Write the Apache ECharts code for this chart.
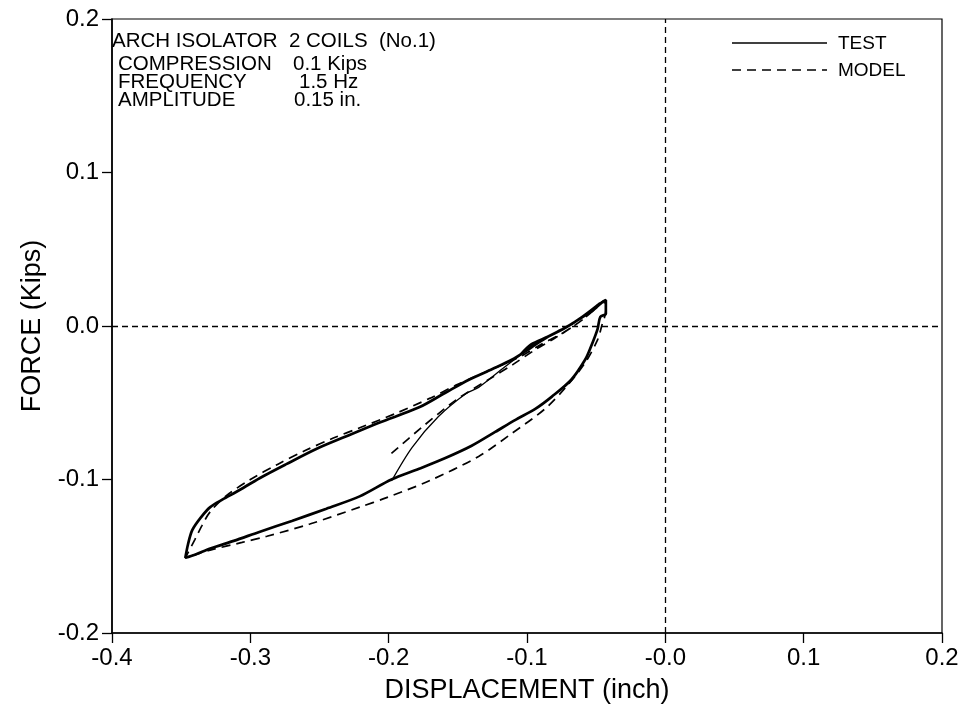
<!DOCTYPE html>
<html>
<head>
  <meta charset="utf-8">
  <style>
    html, body { width: 100%; height: 100%; margin: 0; padding: 0; overflow: hidden; background: #fff; }
    #container { width: 971px; height: 709px; }
  </style>
</head>
<body>
  <div id="container"></div>
  <script src="https://cdn.jsdelivr.net/npm/echarts@6/dist/echarts.min.js"></script>
  <script>
    // tick values
    var xTicks = [-0.4, -0.3, -0.2, -0.1, 0.0, 0.1, 0.2];
    var yTicks = [-0.2, -0.1, 0.0, 0.1, 0.2];

    // TEST start transient (thin line), displacement in inch, force in kips
    var testStartDisp = [-0.198, -0.183, -0.164, -0.144, -0.135, -0.118, -0.105];
    var testStartForce = [-0.101, -0.079, -0.059, -0.044, -0.040, -0.028, -0.019];

    // TEST steady loop
    var testDisp = [
      -0.105, -0.097, -0.085, -0.072, -0.063, -0.056, -0.050, -0.045, -0.043,
      -0.043, -0.047, -0.049, -0.054, -0.058, -0.068, -0.082, -0.094, -0.108, -0.123,
      -0.140, -0.159, -0.178, -0.198, -0.221, -0.245, -0.270, -0.293, -0.312, -0.329,
      -0.340, -0.347,
      -0.345, -0.342, -0.336, -0.329, -0.320, -0.310, -0.293, -0.274, -0.252, -0.231,
      -0.207, -0.178, -0.160, -0.142, -0.125, -0.111, -0.097, -0.085, -0.072, -0.060, -0.047
    ];
    var testForce = [
      -0.019, -0.012, -0.007, -0.001, 0.004, 0.008, 0.012, 0.016, 0.017,
      0.008, 0.006, -0.002, -0.014, -0.022, -0.035, -0.046, -0.054, -0.061, -0.069,
      -0.078, -0.086, -0.093, -0.100, -0.111, -0.119, -0.127, -0.134, -0.140, -0.145,
      -0.149, -0.151,
      -0.142, -0.133, -0.125, -0.118, -0.113, -0.108, -0.099, -0.090, -0.080, -0.072,
      -0.063, -0.053, -0.044, -0.035, -0.028, -0.022, -0.014, -0.007, -0.001, 0.006, 0.015
    ];

    // MODEL
    var modelDisp = [
      -0.198, -0.176, -0.151, -0.128, -0.110,
      -0.095, -0.080, -0.063, -0.052, -0.045,
      -0.043, -0.046, -0.049, -0.058, -0.072, -0.087, -0.111, -0.135, -0.171, -0.202,
      -0.221, -0.257, -0.288, -0.306, -0.329, -0.347,
      -0.340, -0.335, -0.329, -0.318, -0.300, -0.280, -0.260, -0.240, -0.220, -0.195,
      -0.170, -0.150, -0.125, -0.105, -0.090, -0.075, -0.060, -0.045
    ];
    var modelForce = [
      -0.083, -0.066, -0.048, -0.035, -0.025,
      -0.016, -0.008, 0.002, 0.010, 0.016,
      0.010, 0.000, -0.009, -0.024, -0.040, -0.054, -0.070, -0.085, -0.101, -0.112,
      -0.118, -0.129, -0.137, -0.141, -0.146, -0.151,
      -0.139, -0.130, -0.121, -0.111, -0.100, -0.090, -0.081, -0.073, -0.066, -0.057,
      -0.047, -0.038, -0.028, -0.020, -0.012, -0.005, 0.004, 0.016
    ];

    // annotation lines
    var noteLabels = ['COMPRESSION', 'FREQUENCY', 'AMPLITUDE'];
    var noteValues = ['0.1 Kips', '1.5 Hz', '0.15 in.'];
    var legendNames = ['TEST', 'MODEL'];

    function zip(a, b) {
      return a.map(function (v, i) { return [v, b[i]]; });
    }

    var FONT = '"Liberation Sans", Arial, Helvetica, sans-serif';
    var chart = echarts.init(document.getElementById('container'));

    var graphics = [{
      type: 'text', left: 112, top: 31,
      style: { text: 'ARCH ISOLATOR  2 COILS  (No.1)', font: '20.5px ' + FONT, fill: '#000' }
    }];
    var noteTops = [54, 72, 90];
    var valueLeft = [293, 299, 294];
    noteLabels.forEach(function (t, i) {
      graphics.push({
        type: 'text', left: 118, top: noteTops[i],
        style: { text: t, font: '20.5px ' + FONT, fill: '#000' }
      });
      graphics.push({
        type: 'text', left: valueLeft[i], top: noteTops[i],
        style: { text: noteValues[i], font: '20.5px ' + FONT, fill: '#000' }
      });
    });

    // legend drawn by hand: line sample + label
    var legendY = [43, 70];
    var legendDash = [null, [9, 6]];
    legendNames.forEach(function (name, i) {
      graphics.push({
        type: 'line',
        shape: { x1: 732, y1: legendY[i], x2: 827, y2: legendY[i] },
        style: { stroke: '#000', lineWidth: 1.6, lineDash: legendDash[i] }
      });
      graphics.push({
        type: 'text', left: 838, top: legendY[i] - 9,
        style: { text: name, font: '19px ' + FONT, fill: '#000' }
      });
    });

    var axisCommon = {
      axisLine: { onZero: false, lineStyle: { color: '#000', width: 1.6 } },
      axisTick: { length: 10, lineStyle: { color: '#000', width: 1.3 } },
      splitLine: { show: false },
      nameLocation: 'middle',
      nameTextStyle: { fontSize: 27, color: '#000', fontFamily: FONT }
    };

    chart.setOption({
      animation: false,
      backgroundColor: '#fff',
      textStyle: { fontFamily: FONT },
      grid: {
        left: 112, right: 29, top: 19, bottom: 76,
        show: true, borderColor: '#000', borderWidth: 1.2, backgroundColor: 'transparent'
      },
      graphic: graphics,
      xAxis: Object.assign({}, axisCommon, {
        type: 'value',
        min: xTicks[0], max: xTicks[xTicks.length - 1], interval: 0.1,
        name: 'DISPLACEMENT (inch)', nameGap: 44,
        axisLabel: {
          fontSize: 24, color: '#000', margin: 13, fontFamily: FONT,
          formatter: function (v) { return Math.abs(v) < 1e-9 ? '-0.0' : v.toFixed(1); }
        }
      }),
      yAxis: Object.assign({}, axisCommon, {
        type: 'value',
        min: yTicks[0], max: yTicks[yTicks.length - 1], interval: 0.1,
        name: 'FORCE (Kips)', nameGap: 66,
        axisLabel: {
          fontSize: 24, color: '#000', margin: 13, fontFamily: FONT,
          formatter: function (v) { return Math.abs(v) < 1e-9 ? '0.0' : v.toFixed(1); }
        }
      }),
      series: [{
        name: 'TEST',
        type: 'line',
        symbol: 'none',
        smooth: 0.3,
        lineStyle: { color: '#000', width: 1.3 },
        data: zip(testStartDisp, testStartForce),
        markLine: {
          silent: true,
          symbol: 'none',
          label: { show: false },
          lineStyle: { color: '#000', width: 1.3, type: [6, 4] },
          data: [{ xAxis: 0 }, { yAxis: 0 }]
        }
      }, {
        name: 'TEST',
        type: 'line',
        symbol: 'none',
        smooth: 0.3,
        lineStyle: { color: '#000', width: 2.7 },
        data: zip(testDisp, testForce)
      }, {
        name: 'MODEL',
        type: 'line',
        symbol: 'none',
        smooth: 0.3,
        lineStyle: { color: '#000', width: 1.7, type: [9, 6] },
        data: zip(modelDisp, modelForce)
      }]
    });
  </script>
</body>
</html>
